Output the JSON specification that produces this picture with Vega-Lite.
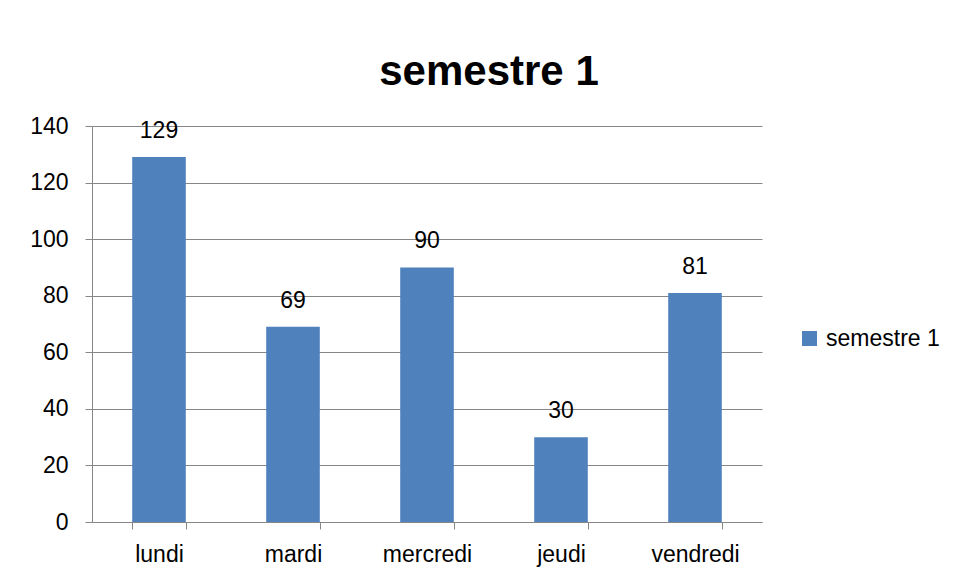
{
  "$schema": "https://vega.github.io/schema/vega-lite/v6.json",
  "autosize": "none",
  "width": 670,
  "height": 396,
  "padding": {"left": 92, "top": 126, "right": 194, "bottom": 61},
  "background": "white",
  "data": {"values": [
    {"jour": "lundi", "valeur": 129, "serie": "semestre 1"},
    {"jour": "mardi", "valeur": 69, "serie": "semestre 1"},
    {"jour": "mercredi", "valeur": 90, "serie": "semestre 1"},
    {"jour": "jeudi", "valeur": 30, "serie": "semestre 1"},
    {"jour": "vendredi", "valeur": 81, "serie": "semestre 1"}
  ]},
  "title": {
    "text": "semestre 1",
    "anchor": "middle",
    "frame": "group",
    "dx": 62,
    "offset": 21,
    "fontSize": 42,
    "fontWeight": "bold",
    "font": "Liberation Sans",
    "color": "#000000"
  },
  "encoding": {
    "x": {
      "field": "jour",
      "type": "nominal",
      "sort": null,
      "scale": {"paddingInner": 0.6, "paddingOuter": 0.3},
      "axis": {
        "title": null,
        "labelAngle": 0,
        "labelFontSize": 23,
        "labelFont": "Liberation Sans",
        "labelColor": "#000000",
        "labelPadding": 14,
        "domainColor": "#868686",
        "tickColor": "#868686",
        "tickSize": 7,
        "tickBand": "extent",
        "grid": false
      }
    },
    "y": {
      "field": "valeur",
      "type": "quantitative",
      "scale": {"domain": [0, 140], "nice": false},
      "axis": {
        "title": null,
        "values": [0, 20, 40, 60, 80, 100, 120, 140],
        "labelFontSize": 23,
        "labelFont": "Liberation Sans",
        "labelColor": "#000000",
        "labelPadding": 17,
        "domainColor": "#868686",
        "tickColor": "#868686",
        "tickSize": 7,
        "gridColor": "#868686",
        "gridOpacity": 1
      }
    }
  },
  "layer": [
    {
      "mark": {"type": "bar", "color": "#4F81BD"},
      "encoding": {
        "color": {
          "field": "serie",
          "type": "nominal",
          "scale": {"range": ["#4F81BD"]},
          "legend": {
            "title": null,
            "orient": "none",
            "legendX": 706,
            "legendY": 201,
            "symbolType": "square",
            "symbolSize": 225,
            "symbolStrokeWidth": 0,
            "labelFontSize": 23,
            "labelFont": "Liberation Sans",
            "labelColor": "#000000",
            "labelOffset": 5
          }
        }
      }
    },
    {
      "mark": {"type": "text", "baseline": "alphabetic", "dy": -19, "fontSize": 23, "font": "Liberation Sans", "color": "#000000"},
      "encoding": {"text": {"field": "valeur", "type": "quantitative"}}
    }
  ],
  "config": {"view": {"stroke": null}}
}
